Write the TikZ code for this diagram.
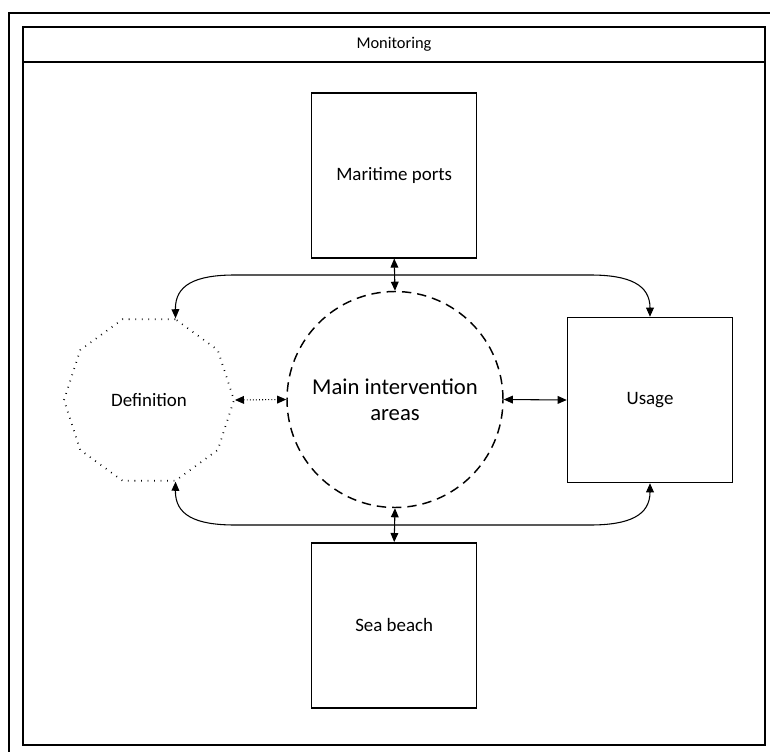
\documentclass[tikz,border=0pt]{standalone}
\usepackage{fontspec}
\setmainfont{Carlito}
\usetikzlibrary{arrows.meta,shapes.geometric}
\begin{document}
\begin{tikzpicture}[x=0.75pt,y=-0.75pt,
  frameline/.style={line width=1.1pt},
  box/.style={draw, line width=1.1pt, minimum width=123.75pt, minimum height=123.75pt, inner sep=0pt, font=\fontsize{14.2}{17}\selectfont},
  biarrow/.style={line width=0.8pt, {Triangle[length=6.8pt,width=5.8pt]}-{Triangle[length=6.8pt,width=5.8pt]}},
  ]
\useasboundingbox (0,0) rectangle (770,752);
\draw[frameline] (9,752) -- (9,13) -- (770,13);
\draw[frameline] (23,27) rectangle (765,745);
\draw[frameline] (23,62) -- (765,62);
\node[font=\fontsize{12.3}{15}\selectfont] (title) at (394,44.5) {Monitoring};
\node[box] (mar) at (394.2,175.3) {Maritime ports};
\node[box] (use) at (650,400) {Usage};
\node[box] (sea) at (394.2,625.3) {Sea beach};
\node[draw, circle, minimum size=162pt, inner sep=0pt, line width=1.1pt, dash pattern=on 7pt off 4.5pt, align=center, font=\fontsize{17}{19.5}\selectfont] (main) at (395,399.5) {Main intervention\\areas};
\node[draw, regular polygon, regular polygon sides=10, minimum size=127.5pt, inner sep=0pt, line width=1.3pt, dash pattern=on 0.6pt off 4.3pt, font=\fontsize{14.2}{17}\selectfont] (def) at (149,400) {Definition};
\draw[biarrow] (mar.south) -- (main.north);
\draw[biarrow] (main.south) -- (sea.north);
\draw[biarrow] (main.east) -- (use.west);
\draw[biarrow, dash pattern=on 0.7pt off 1.6pt] (def.0) -- (main.west);
\draw[biarrow] (def.72) .. controls (175,285) and (195,275) .. (235,275) -- (590,275) .. controls (630,275) and (650,285) .. (use.north);
\draw[biarrow] (def.-72) .. controls (175,515) and (195,525) .. (235,525) -- (590,525) .. controls (630,525) and (650,515) .. (use.south);
\end{tikzpicture}
\end{document}
